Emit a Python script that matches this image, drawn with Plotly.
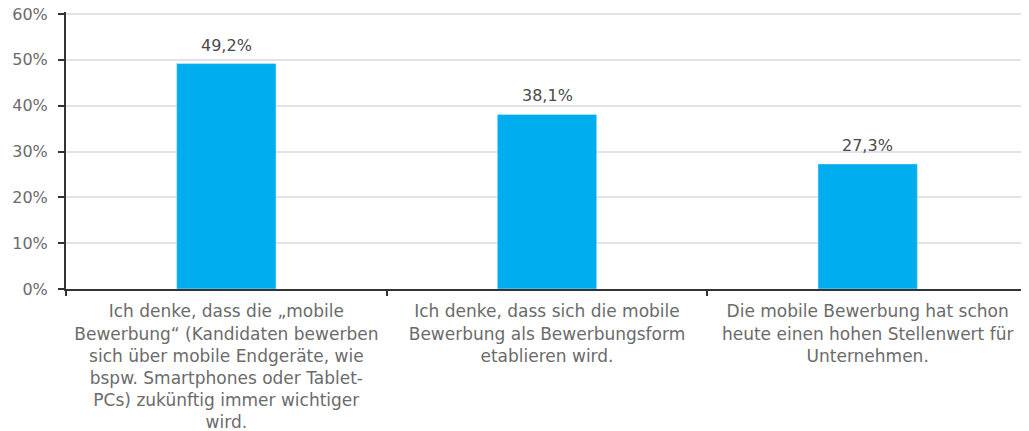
import plotly.graph_objects as go

categories = [
    "Ich denke, dass die „mobile<br>Bewerbung“ (Kandidaten bewerben<br>sich über mobile Endgeräte, wie<br>bspw. Smartphones oder Tablet-<br>PCs) zukünftig immer wichtiger<br>wird.",
    "Ich denke, dass sich die mobile<br>Bewerbung als Bewerbungsform<br>etablieren wird.",
    "Die mobile Bewerbung hat schon<br>heute einen hohen Stellenwert für<br>Unternehmen.",
]
values = [0.492, 0.381, 0.273]
y_ticks = [0, 0.1, 0.2, 0.3, 0.4, 0.5, 0.6]

FONT = "DejaVu Sans"

fig = go.Figure(
    go.Bar(
        x=categories,
        y=values,
        marker_color="#00AEEF",
        hoverinfo="skip",
    )
)

for c, v in zip(categories, values):
    fig.add_annotation(
        x=c, y=v, text=f"{v*100:.1f}%".replace(".", ","),
        showarrow=False, yanchor="bottom", yshift=7,
        font=dict(size=16, color="#4a4a4a", family=FONT),
    )

fig.update_layout(
    width=1021,
    height=423,
    margin=dict(l=58, r=1, t=4, b=142),
    plot_bgcolor="white",
    paper_bgcolor="white",
    separators=",.",
    bargap=0.69,
    showlegend=False,
    font=dict(family=FONT, size=16, color="#6b6b6b"),
)
fig.update_xaxes(
    type="category",
    automargin=False,
    tickson="boundaries",
    ticks="outside",
    ticklen=5,
    tickwidth=2,
    tickcolor="#333333",
    showline=True,
    linecolor="#333333",
    linewidth=2,
    showgrid=False,
    ticklabelstandoff=6,
    tickfont=dict(size=17, color="#6b6b6b", family=FONT),
)
fig.update_yaxes(
    range=[0, 0.6045],
    automargin=False,
    tickvals=y_ticks,
    tickformat=".0%",
    ticks="outside",
    ticklen=6,
    tickwidth=2,
    tickcolor="#333333",
    showline=True,
    linecolor="#333333",
    linewidth=2,
    showgrid=True,
    gridcolor="#e3e3e3",
    gridwidth=2,
    zeroline=False,
    ticklabelstandoff=7,
    ticklabeloverflow="allow",
    tickfont=dict(size=16, color="#6b6b6b", family=FONT),
)

fig.write_html("out.html")
